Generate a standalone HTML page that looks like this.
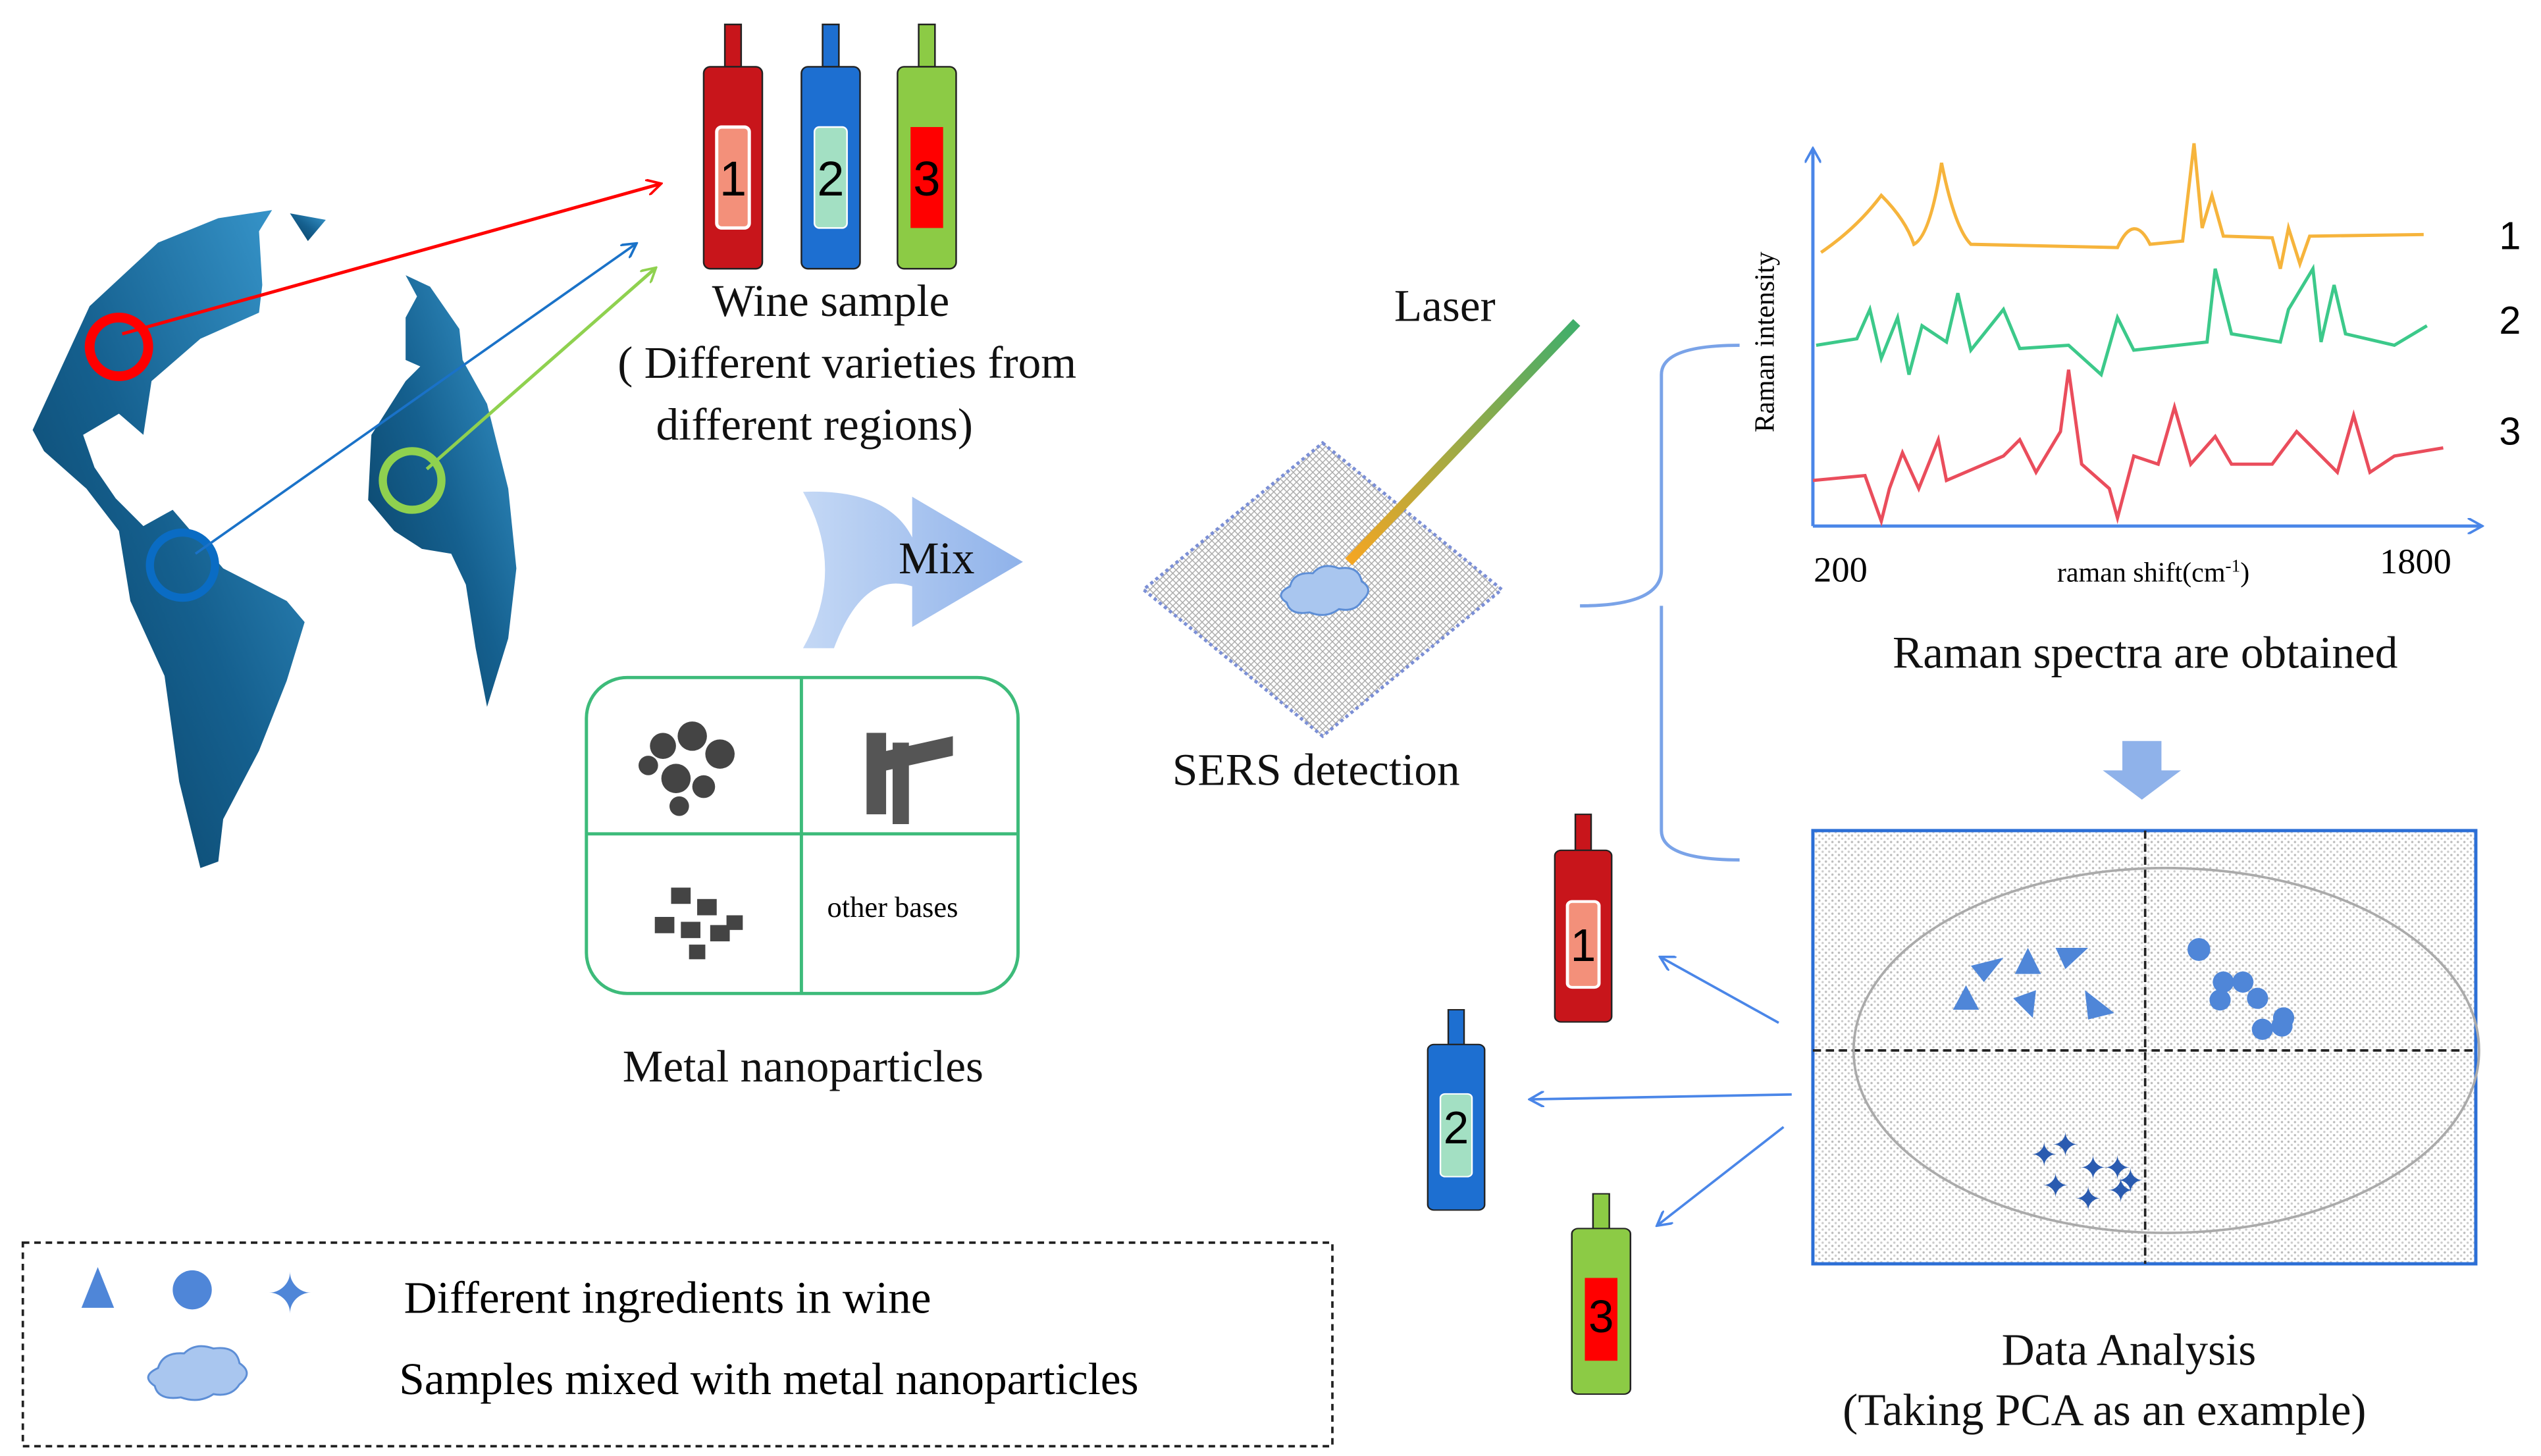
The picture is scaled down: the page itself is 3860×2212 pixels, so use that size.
<!DOCTYPE html>
<html><head><meta charset="utf-8"><style>html,body{margin:0;padding:0;background:#fff}svg{display:block}</style></head><body>
<svg width="3860" height="2212" viewBox="0 0 1560 894" xmlns="http://www.w3.org/2000/svg" font-family="'Liberation Serif',serif">
<defs>
<pattern id="dots" width="4" height="4" patternUnits="userSpaceOnUse"><rect width="4" height="4" fill="#fff"/><circle cx="1" cy="1" r="0.7" fill="#bbb"/><circle cx="3" cy="3" r="0.7" fill="#ccc"/></pattern>
<pattern id="grid" width="4" height="4" patternUnits="userSpaceOnUse"><rect width="4" height="4" fill="#fff"/><path d="M0 0L4 4M4 0L0 4" stroke="#aaa" stroke-width="0.6"/></pattern>
<linearGradient id="glob" x1="0" y1="1" x2="1" y2="0"><stop offset="0" stop-color="#083d5e"/><stop offset="0.5" stop-color="#15608f"/><stop offset="1" stop-color="#3a9ad0"/></linearGradient>
<linearGradient id="laser" x1="0" y1="1" x2="1" y2="0"><stop offset="0" stop-color="#f5a623"/><stop offset="1" stop-color="#3fae6b"/></linearGradient>
<linearGradient id="mixg" x1="0" y1="0" x2="1" y2="0"><stop offset="0" stop-color="#c4d8f5"/><stop offset="1" stop-color="#8fb2ea"/></linearGradient>
<marker id="ar" markerWidth="10" markerHeight="10" refX="8" refY="5" orient="auto" markerUnits="userSpaceOnUse"><path d="M0 0L9 5L0 10" fill="none" stroke="context-stroke" stroke-width="1.5"/></marker>
<g id="bot"><rect x="-5" y="0" width="10" height="26" /><rect x="-18" y="26" width="36" height="124" rx="4"/></g>
</defs>
<!-- globe -->
<g fill="url(#glob)">
<path d="M20 264 L55 188 L97 149 L134 134 L167 129 L159 142 L161 175 L159 192 L123 208 L93 234 L88 267 L73 254 L51 267 L58 287 L71 306 L88 323 L106 313 L137 349 L176 369 L187 382 L176 418 L159 461 L137 503 L134 529 L123 533 L110 480 L101 415 L80 369 L73 326 L53 300 L27 277Z"/>
<path d="M178 131 L200 135 L189 148Z"/>
<path d="M249 169 L264 176 L282 202 L284 221 L299 248 L312 300 L317 349 L312 392 L299 434 L292 398 L286 359 L277 340 L259 337 L242 326 L226 307 L228 267 L249 234 L258 225 L249 221 L249 195 L256 182Z"/>
</g>
<circle cx="73" cy="213" r="18" fill="none" stroke="#f00" stroke-width="6"/>
<circle cx="112" cy="347" r="20" fill="none" stroke="#0a6cc4" stroke-width="5"/>
<circle cx="253" cy="295" r="18" fill="none" stroke="#8fd14f" stroke-width="5"/>
<line x1="75" y1="205" x2="405" y2="113" stroke="#f00" stroke-width="2" marker-end="url(#ar)"/>
<line x1="120" y1="340" x2="390" y2="150" stroke="#1a72c8" stroke-width="1.5" marker-end="url(#ar)"/>
<line x1="262" y1="288" x2="402" y2="165" stroke="#8fd14f" stroke-width="2" marker-end="url(#ar)"/>
<!-- top bottles -->
<g transform="translate(450,15)" fill="#c8151b" stroke="#222" stroke-width="1"><use href="#bot"/><rect x="-10" y="63" width="20" height="62" rx="3" fill="#f3907a" stroke="#fff" stroke-width="2"/></g>
<g transform="translate(510,15)" fill="#1d6fd1" stroke="#222" stroke-width="1"><use href="#bot"/><rect x="-10" y="63" width="20" height="62" rx="3" fill="#a3e0c3" stroke="#fff" stroke-width="1"/></g>
<g transform="translate(569,15)" fill="#8ccb45" stroke="#222" stroke-width="1"><use href="#bot"/><rect x="-10" y="63" width="20" height="62" fill="#f00" stroke="none"/></g>
<g font-family="'Liberation Sans',sans-serif" font-size="30" text-anchor="middle"><text x="450" y="120">1</text><text x="510" y="120">2</text><text x="569" y="120">3</text></g>
<!-- mix arrow -->
<path d="M493 302 Q545 300 560 330 L560 305 L628 345 L560 385 L560 360 Q530 350 512 398 L493 398 Q520 350 493 302Z" fill="url(#mixg)"/>
<g font-size="28" text-anchor="middle" fill="#111">
<text x="510" y="194">Wine sample</text>
<text x="520" y="232">( Different varieties from</text>
<text x="500" y="270">different regions)</text>
<text x="575" y="352">Mix</text>
<text x="493" y="664">Metal nanoparticles</text>
<text x="887" y="197">Laser</text>
<text x="808" y="482">SERS detection</text>
<text x="1317" y="410">Raman spectra are obtained</text>
<text x="1307" y="838">Data Analysis</text>
<text x="1292" y="875">(Taking PCA as an example)</text>
</g>
<!-- nano box -->
<rect x="360" y="416" width="265" height="194" rx="25" fill="none" stroke="#3dbb7a" stroke-width="2"/>
<line x1="492" y1="416" x2="492" y2="610" stroke="#3dbb7a" stroke-width="2"/>
<line x1="360" y1="512" x2="625" y2="512" stroke="#3dbb7a" stroke-width="2"/>
<g fill="#444"><circle cx="407" cy="458" r="8"/><circle cx="425" cy="452" r="9"/><circle cx="442" cy="463" r="9"/><circle cx="415" cy="478" r="9"/><circle cx="432" cy="483" r="7"/><circle cx="398" cy="470" r="6"/><circle cx="417" cy="495" r="6"/></g>
<path d="M532 450h12v50h-12zM548 456h10v50h-10zM540 462l45-10v12l-45 10z" fill="#555"/>
<g fill="#444"><rect x="412" y="545" width="12" height="10"/><rect x="428" y="552" width="12" height="10"/><rect x="402" y="563" width="12" height="10"/><rect x="418" y="566" width="12" height="10"/><rect x="436" y="568" width="12" height="10"/><rect x="423" y="580" width="10" height="9"/><rect x="446" y="562" width="10" height="9"/></g>
<text x="548" y="563" font-size="18" text-anchor="middle">other bases</text>
<!-- SERS -->
<polygon points="812,272 922,362 812,452 702,362" fill="url(#grid)" stroke="#7b8fd6" stroke-width="2" stroke-dasharray="2 2"/>
<line x1="828" y1="345" x2="968" y2="198" stroke="url(#laser)" stroke-width="6"/>
<path d="M792 360 q2-9 14-8 q6-7 16-3 q12-2 14 8 q8 5 0 12 q-4 7-14 5 q-8 6-18 2 q-12 2-14-6 q-8-5 2-10z" fill="#a9c6ef" stroke="#5d8ed6" stroke-width="1.2"/>
<!-- bracket -->
<path d="M970 372 Q1020 372 1020 350 L1020 230 Q1020 212 1068 212 M1020 372 L1020 510 Q1020 528 1068 528" fill="none" stroke="#7aa3e8" stroke-width="2"/>
<!-- spectra -->
<g stroke="#4a86e8" stroke-width="2" fill="none"><line x1="1113" y1="323" x2="1113" y2="92" marker-end="url(#ar)"/><line x1="1113" y1="323" x2="1523" y2="323" marker-end="url(#ar)"/></g>
<path d="M1118 155 Q1140 140 1155 120 Q1170 135 1175 150 Q1185 145 1192 100 Q1200 140 1210 150 L1300 152 Q1310 130 1320 150 L1340 148 L1347 88 L1352 140 L1358 120 L1365 145 L1395 146 L1400 165 L1405 140 L1412 162 L1418 145 L1488 144" fill="none" stroke="#f6b43c" stroke-width="2"/>
<path d="M1115 212 L1140 208 L1148 190 L1155 220 L1165 195 L1172 230 L1180 200 L1195 210 L1202 180 L1210 215 L1230 190 L1240 214 L1270 212 L1290 230 L1300 195 L1310 215 L1355 210 L1360 165 L1370 205 L1400 210 L1405 190 L1420 165 L1425 210 L1433 175 L1440 205 L1470 212 L1490 200" fill="none" stroke="#3cc98a" stroke-width="2"/>
<path d="M1113 295 L1145 292 L1155 320 L1160 300 L1168 278 L1178 300 L1190 270 L1195 295 L1230 280 L1240 270 L1250 290 L1265 265 L1270 227 L1278 285 L1295 300 L1300 318 L1310 280 L1325 285 L1335 250 L1345 285 L1360 268 L1370 285 L1395 285 L1410 265 L1420 275 L1435 290 L1445 255 L1455 290 L1470 280 L1500 275" fill="none" stroke="#ea4d5c" stroke-width="2"/>
<g font-size="24" text-anchor="middle" font-family="'Liberation Sans',sans-serif"><text x="1541" y="153">1</text><text x="1541" y="205">2</text><text x="1541" y="273">3</text></g>
<text x="1130" y="357" font-size="22" text-anchor="middle">200</text>
<text x="1483" y="352" font-size="22" text-anchor="middle">1800</text>
<text x="1322" y="357" font-size="17" text-anchor="middle">raman shift(cm<tspan dy="-6" font-size="11">-1</tspan><tspan dy="6">)</tspan></text>
<text transform="translate(1089,210) rotate(-90)" font-size="17" text-anchor="middle">Raman intensity</text>
<!-- down arrow -->
<path d="M1303 455h24v18h12l-24 18l-24-18h12z" fill="#8fb2ea"/>
<!-- PCA -->
<rect x="1113" y="510" width="407" height="266" fill="url(#dots)" stroke="#2c6fd6" stroke-width="2"/>
<line x1="1317" y1="510" x2="1317" y2="776" stroke="#222" stroke-width="1.5" stroke-dasharray="5 3"/>
<line x1="1113" y1="645" x2="1520" y2="645" stroke="#222" stroke-width="1.5" stroke-dasharray="5 3"/>
<ellipse cx="1330" cy="645" rx="192" ry="112" fill="none" stroke="#aaa" stroke-width="1.5"/>
<g fill="#4f86d8"><polygon points="1245,582 1253,598 1237,598"/><polygon points="1210,593 1230,588 1218,603"/><polygon points="1262,582 1282,582 1268,595"/><polygon points="1207,605 1215,620 1199,620"/><polygon points="1236,613 1250,608 1248,625"/><polygon points="1280,608 1298,622 1282,626"/>
<circle cx="1350" cy="583" r="7"/><circle cx="1365" cy="603" r="6.5"/><circle cx="1377" cy="603" r="6.5"/><circle cx="1386" cy="613" r="6.5"/><circle cx="1363" cy="614" r="6.5"/><circle cx="1389" cy="632" r="6.5"/><circle cx="1402" cy="625" r="6.5"/><circle cx="1401" cy="630" r="6.5"/></g>
<g fill="#2a5bb0" font-size="20" text-anchor="middle" font-family="'DejaVu Sans',sans-serif"><text x="1255" y="716">✦</text><text x="1268" y="710">✦</text><text x="1285" y="724">✦</text><text x="1300" y="724">✦</text><text x="1262" y="735">✦</text><text x="1282" y="743">✦</text><text x="1302" y="738">✦</text><text x="1308" y="732">✦</text></g>
<!-- lower bottles -->
<g transform="translate(972,500) scale(0.97,0.85)" fill="#c8151b" stroke="#222" stroke-width="1"><use href="#bot"/><rect x="-10" y="63" width="20" height="62" rx="3" fill="#f3907a" stroke="#fff" stroke-width="2"/></g>
<g transform="translate(894,620) scale(0.97,0.82)" fill="#1d6fd1" stroke="#222" stroke-width="1"><use href="#bot"/><rect x="-10" y="63" width="20" height="62" rx="3" fill="#a3e0c3" stroke="#fff"/></g>
<g transform="translate(983,733) scale(1,0.82)" fill="#8ccb45" stroke="#222" stroke-width="1"><use href="#bot"/><rect x="-10" y="63" width="20" height="62" fill="#f00" stroke="none"/></g>
<g font-family="'Liberation Sans',sans-serif" font-size="28" text-anchor="middle"><text x="972" y="590">1</text><text x="894" y="702">2</text><text x="983" y="818">3</text></g>
<g stroke="#4a86e8" stroke-width="1.5" fill="none"><line x1="1092" y1="628" x2="1020" y2="588" marker-end="url(#ar)"/><line x1="1100" y1="672" x2="940" y2="675" marker-end="url(#ar)"/><line x1="1095" y1="692" x2="1018" y2="752" marker-end="url(#ar)"/></g>
<!-- legend -->
<rect x="14" y="763" width="804" height="125" fill="none" stroke="#222" stroke-width="1.5" stroke-dasharray="4 3"/>
<polygon points="60,778 70,803 50,803" fill="#4f86d8"/>
<circle cx="118" cy="792" r="12" fill="#4f86d8"/>
<text x="178" y="806" font-size="34" fill="#4f86d8" text-anchor="middle" font-family="'DejaVu Sans',sans-serif">✦</text>
<path d="M97 840 q3-10 16-9 q7-7 18-3 q14-2 16 9 q9 6 0 13 q-5 8-16 6 q-9 6-20 2 q-14 2-16-7 q-9-6 2-11z" fill="#a9c6ef" stroke="#5d8ed6" stroke-width="1.2"/>
<text x="248" y="806" font-size="28">Different ingredients in wine</text>
<text x="245" y="856" font-size="28">Samples mixed with metal nanoparticles</text>
</svg>
</body></html>
